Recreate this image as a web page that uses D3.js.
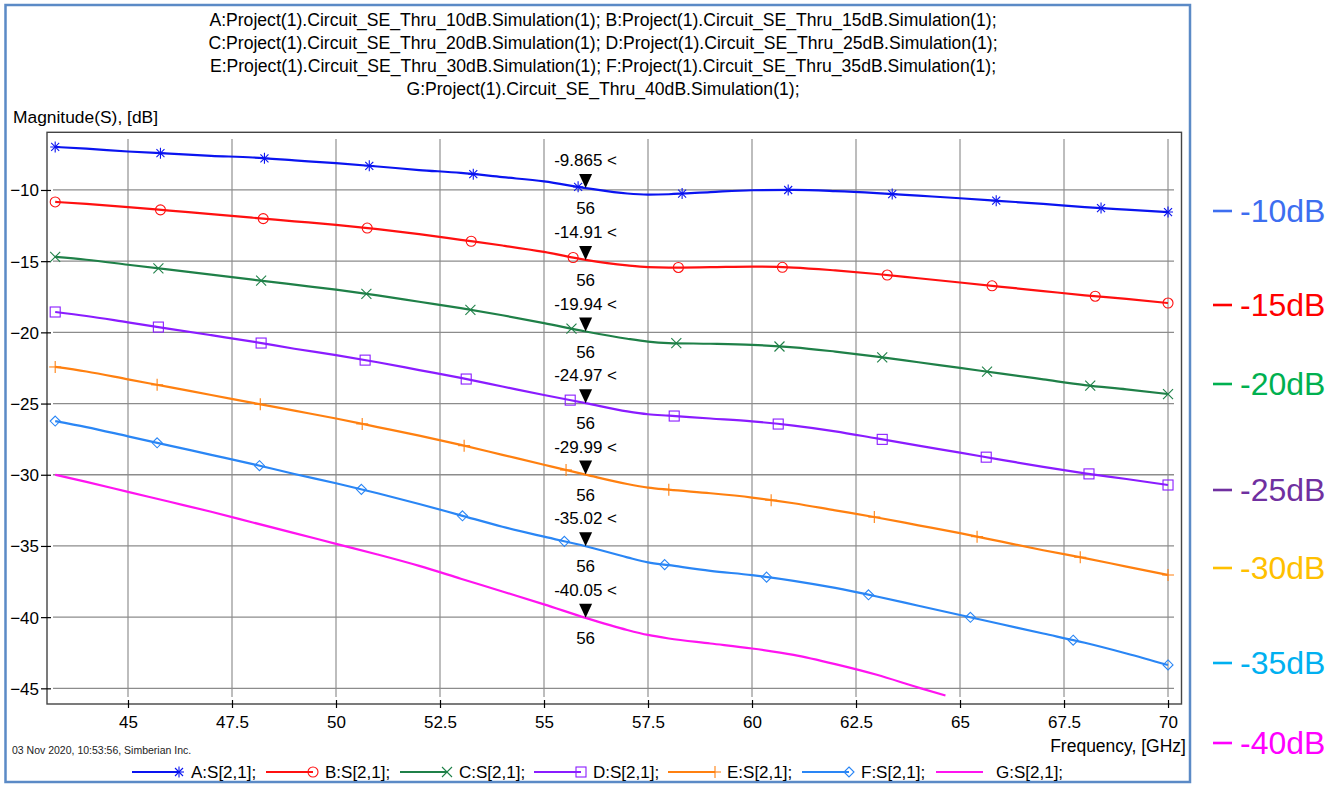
<!DOCTYPE html>
<html><head><meta charset="utf-8">
<script src="https://cdn.jsdelivr.net/npm/d3@7"></script>
<style>
html,body{margin:0;padding:0;background:#fff;}
svg text{font-family:"Liberation Sans",Arial,sans-serif;}
</style></head>
<body>
<svg id="c" width="1336" height="785"></svg>
<script>
// ---------- DATA ----------
const titleLines = [
  "A:Project(1).Circuit_SE_Thru_10dB.Simulation(1); B:Project(1).Circuit_SE_Thru_15dB.Simulation(1);",
  "C:Project(1).Circuit_SE_Thru_20dB.Simulation(1); D:Project(1).Circuit_SE_Thru_25dB.Simulation(1);",
  "E:Project(1).Circuit_SE_Thru_30dB.Simulation(1); F:Project(1).Circuit_SE_Thru_35dB.Simulation(1);",
  "G:Project(1).Circuit_SE_Thru_40dB.Simulation(1);"
];
const xTicks = [45, 47.5, 50, 52.5, 55, 57.5, 60, 62.5, 65, 67.5, 70];
const yTicks = [-10, -15, -20, -25, -30, -35, -40, -45];
const seriesNames = ["A", "B", "C", "D", "E", "F", "G"];
const legendLabels = ["A:S[2,1];", "B:S[2,1];", "C:S[2,1];", "D:S[2,1];", "E:S[2,1];", "F:S[2,1];", "G:S[2,1];"];
const seriesColors = ["#0a14f0", "#ff1010", "#1f8048", "#8a1cff", "#ff8010", "#2a86f5", "#ff14f0"];
const markerShapes = ["asterisk", "circle", "cross", "square", "plus", "diamond", "none"];

const freqs = [43.25, 44, 45, 46, 47, 48, 49, 50, 51, 52, 53, 54, 55, 56, 57, 57.5, 58, 59, 60, 61, 62, 63, 64, 65, 66, 67, 68, 69, 70];
const sA = [-6.98, -7.1, -7.3, -7.45, -7.6, -7.72, -7.92, -8.12, -8.35, -8.6, -8.8, -9.1, -9.4, -9.865, -10.25, -10.32, -10.3, -10.15, -10.02, -10.0, -10.08, -10.22, -10.4, -10.58, -10.78, -10.98, -11.2, -11.38, -11.55];
const sB = [-10.84, -10.98, -11.2, -11.45, -11.7, -11.95, -12.2, -12.45, -12.75, -13.1, -13.5, -13.9, -14.35, -14.91, -15.3, -15.42, -15.45, -15.42, -15.38, -15.45, -15.65, -15.9, -16.2, -16.5, -16.8, -17.1, -17.4, -17.65, -17.94];
const sC = [-14.7, -14.9, -15.25, -15.6, -15.95, -16.3, -16.65, -17.0, -17.4, -17.85, -18.3, -18.8, -19.35, -19.94, -20.45, -20.65, -20.75, -20.8, -20.88, -21.05, -21.35, -21.7, -22.1, -22.5, -22.9, -23.3, -23.7, -24.0, -24.33];
const sD = [-18.57, -18.85, -19.3, -19.75, -20.2, -20.65, -21.15, -21.6, -22.1, -22.65, -23.2, -23.8, -24.4, -24.97, -25.55, -25.75, -25.85, -26.05, -26.25, -26.55, -26.95, -27.45, -27.95, -28.45, -28.95, -29.45, -29.9, -30.3, -30.72];
const sE = [-22.43, -22.75, -23.3, -23.85, -24.4, -24.95, -25.5, -26.05, -26.65, -27.25, -27.9, -28.6, -29.3, -29.99, -30.65, -30.9, -31.05, -31.3, -31.6, -32.0, -32.5, -33.0, -33.55, -34.1, -34.7, -35.3, -35.85, -36.45, -37.04];
const sF = [-26.23, -26.65, -27.3, -27.95, -28.6, -29.25, -29.95, -30.6, -31.3, -32.05, -32.85, -33.65, -34.35, -35.02, -35.8, -36.15, -36.35, -36.75, -37.05, -37.45, -37.95, -38.55, -39.2, -39.85, -40.5, -41.15, -41.8, -42.55, -43.36];
const freqsG = [43.25, 44, 45, 46, 47, 48, 49, 50, 51, 52, 53, 54, 55, 56, 57, 57.5, 58, 59, 60, 61, 62, 63, 64, 64.65];
const sG = [-30.0, -30.5, -31.2, -31.9, -32.6, -33.35, -34.1, -34.85, -35.6, -36.4, -37.3, -38.2, -39.1, -40.05, -40.9, -41.25, -41.5, -41.85, -42.2, -42.65, -43.3, -44.05, -44.95, -45.5];

// marker frequencies per series
const mkA = [43.25, 45.78, 48.28, 50.8, 53.3, 55.82, 58.32, 60.87, 63.37, 65.87, 68.39, 70];
const mkB = [43.25, 45.78, 48.25, 50.75, 53.25, 55.7, 58.23, 60.73, 63.25, 65.77, 68.25, 70];
const mkC = [43.25, 45.73, 48.2, 50.73, 53.23, 55.66, 58.18, 60.66, 63.13, 65.65, 68.13, 70];
const mkD = [43.25, 45.73, 48.2, 50.7, 53.13, 55.63, 58.13, 60.63, 63.13, 65.63, 68.1, 70];
const mkE = [43.25, 45.7, 48.18, 50.63, 53.08, 55.53, 58.0, 60.46, 62.94, 65.41, 67.89, 70];
const mkF = [43.25, 45.7, 48.16, 50.61, 53.04, 55.49, 57.9, 60.35, 62.8, 65.25, 67.72, 70];
const mkG = [];

// marker annotation at 56 GHz
const annFreq = 56;
const annValues = [-9.865, -14.91, -19.94, -24.97, -29.99, -35.02, -40.05];
const annTexts = ["-9.865 <", "-14.91 <", "-19.94 <", "-24.97 <", "-29.99 <", "-35.02 <", "-40.05 <"];

// side labels
const sideLabels = ["-10dB", "-15dB", "-20dB", "-25dB", "-30dB", "-35dB", "-40dB"];
const sideColors = ["#3d6ef0", "#ff0000", "#00b050", "#7030a0", "#ffc000", "#00b0f0", "#ff00ff"];
const sideY = [210, 304, 383, 489, 567, 662, 742];

// ---------- CHART ----------
const svg = d3.select("#c");
const FS = 17;
const plot = {l: 47, r: 1181.5, t: 132.3, b: 704};

const x = d3.scaleLinear().domain([43.053, 70.324]).range([plot.l, plot.r]);
const y = d3.scaleLinear().domain([-46.1, -5.95]).range([plot.b, plot.t]);

// outer border
svg.append("rect").attr("x", 5.5).attr("y", 5).attr("width", 1184.5).attr("height", 777)
  .attr("fill", "#fff").attr("stroke", "#5b8ac6").attr("stroke-width", 2.5);

// titles
const tg = svg.append("g");
titleLines.forEach((t, i) => {
  tg.append("text").attr("x", 603).attr("y", 25.5 + i * 23.3).attr("text-anchor", "middle")
    .attr("font-size", 17.6).attr("fill", "#000").text(t);
});
svg.append("text").attr("x", 13).attr("y", 123).attr("font-size", 17.4).text("Magnitude(S), [dB]");

// grid
const gridTop = 139, gridBot = 697, gridL = 53, gridR = 1174;
svg.append("g").selectAll("line").data(xTicks).join("line")
  .attr("x1", d => x(d)).attr("x2", d => x(d)).attr("y1", gridTop).attr("y2", gridBot)
  .attr("stroke", "#bdbdbd").attr("stroke-width", 2);
svg.append("g").selectAll("line").data(yTicks).join("line")
  .attr("x1", gridL).attr("x2", gridR).attr("y1", d => y(d)).attr("y2", d => y(d))
  .attr("stroke", "#8c8c8c").attr("stroke-width", 1.3);

// frame
svg.append("rect").attr("x", plot.l).attr("y", plot.t).attr("width", plot.r - plot.l).attr("height", plot.b - plot.t)
  .attr("fill", "none").attr("stroke", "#444").attr("stroke-width", 1.4);

// axes
const yAxis = d3.axisLeft(y).tickValues(yTicks).tickSize(0).tickPadding(0).tickFormat(d3.format("d"));
const ya = svg.append("g").attr("transform", `translate(${plot.l},0)`).call(yAxis);
ya.select(".domain").remove();
ya.selectAll(".tick line").remove();
ya.selectAll(".tick").append("line").attr("x1", -6).attr("x2", 4).attr("stroke", "#000").attr("stroke-width", 1.2);
ya.selectAll(".tick text").attr("x", -8).attr("dy", "0.35em").attr("font-size", FS)
  .attr("font-family", "Liberation Sans, Arial, sans-serif").attr("fill", "#000");

const xAxis = d3.axisBottom(x).tickValues(xTicks).tickSize(0).tickPadding(0).tickFormat(d => String(d));
const xa = svg.append("g").attr("transform", `translate(0,${plot.b})`).call(xAxis);
xa.select(".domain").remove();
xa.selectAll(".tick line").remove();
xa.selectAll(".tick").append("line").attr("y1", -4).attr("y2", 4).attr("stroke", "#000").attr("stroke-width", 1.2);
xa.selectAll(".tick text").attr("y", 24).attr("dy", 0).attr("font-size", FS)
  .attr("font-family", "Liberation Sans, Arial, sans-serif").attr("fill", "#000");

svg.append("text").attr("x", 1186).attr("y", 752).attr("text-anchor", "end").attr("font-size", 17.5).text("Frequency, [GHz]");
svg.append("text").attr("x", 12).attr("y", 754).attr("font-size", 10.5).attr("fill", "#222").text("03 Nov 2020, 10:53:56, Simberian Inc.");

// series
const seriesVals = [sA, sB, sC, sD, sE, sF, sG];
const seriesFreqs = [freqs, freqs, freqs, freqs, freqs, freqs, freqsG];
const seriesMarks = [mkA, mkB, mkC, mkD, mkE, mkF, mkG];

const line = d3.line().x(d => x(d[0])).y(d => y(d[1])).curve(d3.curveMonotoneX);
svg.append("clipPath").attr("id", "pc").append("rect")
  .attr("x", plot.l).attr("y", plot.t).attr("width", plot.r - plot.l).attr("height", plot.b - plot.t);

function drawMarker(g, shape, cx, cy, color) {
  const s = g.append("g").attr("transform", `translate(${cx},${cy})`).attr("stroke", color).attr("fill", "none").attr("stroke-width", 1.1);
  if (shape === "asterisk") {
    s.append("line").attr("x1", 0).attr("y1", -5.5).attr("x2", 0).attr("y2", 5.5);
    s.append("line").attr("x1", -5).attr("y1", 0).attr("x2", 5).attr("y2", 0);
    s.append("line").attr("x1", -4).attr("y1", -4).attr("x2", 4).attr("y2", 4);
    s.append("line").attr("x1", -4).attr("y1", 4).attr("x2", 4).attr("y2", -4);
  } else if (shape === "circle") {
    s.append("circle").attr("r", 5);
  } else if (shape === "cross") {
    s.append("line").attr("x1", -5).attr("y1", -5).attr("x2", 5).attr("y2", 5);
    s.append("line").attr("x1", -5).attr("y1", 5).attr("x2", 5).attr("y2", -5);
  } else if (shape === "square") {
    s.append("rect").attr("x", -5).attr("y", -5).attr("width", 10).attr("height", 10);
  } else if (shape === "plus") {
    s.append("line").attr("x1", 0).attr("y1", -6).attr("x2", 0).attr("y2", 6);
    s.append("line").attr("x1", -6).attr("y1", 0).attr("x2", 6).attr("y2", 0);
  } else if (shape === "diamond") {
    s.append("path").attr("d", "M0,-5L5,0L0,5L-5,0Z");
  }
}

const sg = svg.append("g").attr("clip-path", "url(#pc)");
seriesVals.forEach((vals, i) => {
  const pts = seriesFreqs[i].map((f, j) => [f, vals[j]]);
  sg.append("path").datum(pts).attr("d", line).attr("fill", "none")
    .attr("stroke", seriesColors[i]).attr("stroke-width", 2.2);
  const onLine = d3.scaleLinear().domain(seriesFreqs[i]).range(vals);
  seriesMarks[i].forEach(f => drawMarker(sg, markerShapes[i], x(f), y(onLine(f)), seriesColors[i]));
});

// annotations at 56 GHz
const ag = svg.append("g");
annValues.forEach((v, i) => {
  const px = x(annFreq), py = y(v);
  ag.append("path").attr("d", `M${px - 6.5},${py - 14}L${px + 6.5},${py - 14}L${px},${py}Z`).attr("fill", "#000");
  ag.append("text").attr("x", px).attr("y", py - 22).attr("text-anchor", "middle").attr("font-size", FS).text(annTexts[i]);
  ag.append("text").attr("x", px).attr("y", py + 26).attr("text-anchor", "middle").attr("font-size", FS).text(annFreq);
});

// legend
const lg = svg.append("g");
seriesNames.forEach((n, i) => {
  const lx = 132 + i * 134, ly = 772;
  lg.append("line").attr("x1", lx).attr("x2", lx + 47).attr("y1", ly).attr("y2", ly)
    .attr("stroke", seriesColors[i]).attr("stroke-width", 2.2);
  drawMarker(lg, markerShapes[i], lx + 47, ly, seriesColors[i]);
  lg.append("text").attr("x", lx + 59 + (i === 6 ? 1 : 0)).attr("y", 778).attr("font-size", FS).text(legendLabels[i]);
});

// side labels
const rg = svg.append("g");
sideLabels.forEach((t, i) => {
  rg.append("line").attr("x1", 1213).attr("x2", 1232).attr("y1", sideY[i] + 1).attr("y2", sideY[i] + 1)
    .attr("stroke", sideColors[i]).attr("stroke-width", 2.6);
  rg.append("text").attr("x", 1240).attr("y", sideY[i] + 11.5).attr("font-size", 32)
    .attr("font-family", "Lato, 'Open Sans', sans-serif").attr("fill", sideColors[i]).text(t);
});
</script>
</body></html>
